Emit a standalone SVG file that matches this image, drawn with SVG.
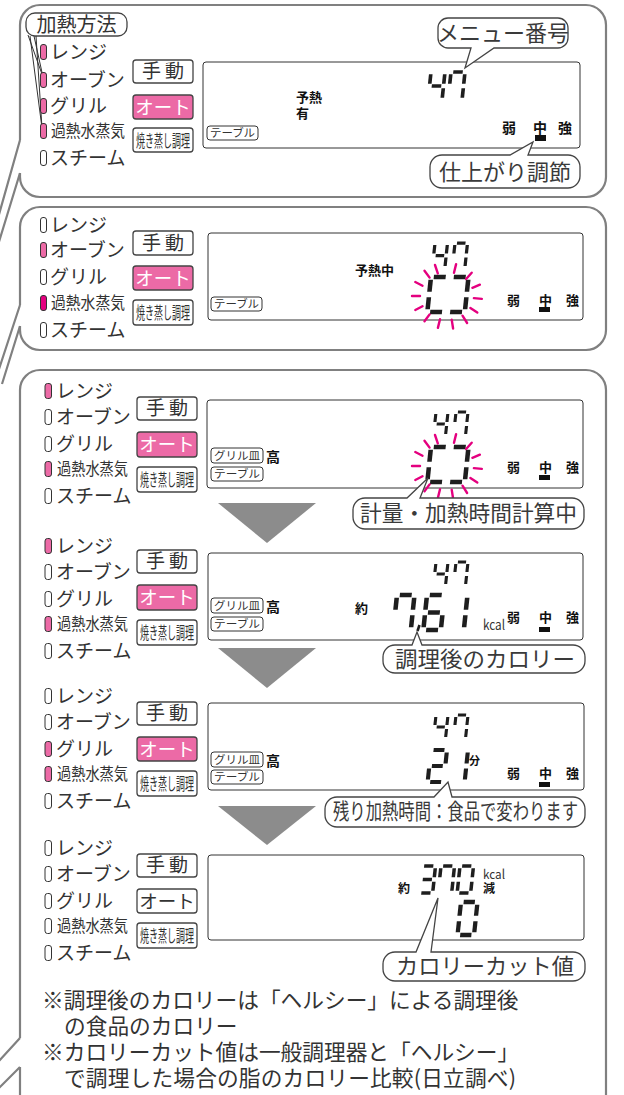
<svg xmlns="http://www.w3.org/2000/svg" width="624" height="1095" viewBox="0 0 624 1095">
<style>
text{font-family:"Noto Sans CJK JP","Noto Sans",sans-serif;fill:#333}
.tl{fill:none;stroke:#808080;stroke-width:2.2}
.lb{font-size:19px}
.lbs{font-size:17px}
.ind{fill:#fff;stroke:#333;stroke-width:1}
.on{fill:#EC6AA6}
.on2{fill:#E4007F}
.btn{fill:#fff;stroke:#444;stroke-width:1.3}
.auto{fill:#EC6AA6}
.bt{font-size:19px}
.bta{font-size:18.5px;text-anchor:middle}
.btw{fill:#fff}
.bts{font-size:16.5px}
.disp{fill:#fff;stroke:#333;stroke-width:1}
.tag{fill:#fff;stroke:#333;stroke-width:1}
.tt{font-size:11px}
.b{font-weight:bold;fill:#111}
.dg{fill:none;stroke:#1e1e1e;stroke-width:2.6}
.bl{fill:none;stroke:#E4007F;stroke-width:2.4;stroke-linecap:round}
.co{fill:#fff;stroke:#444;stroke-width:1.3}
.ct{font-size:22px;fill:#3a3a3a}
.tri{fill:#8c8c8c}
.note{font-size:21.7px;fill:#333}
.bar{fill:#111}
.ln{fill:none;stroke:#333;stroke-width:1}
</style>
<defs>
<path id="sa" d="M1.6 0H8.4"/>
<path id="sb" d="M10 1.6V8.4"/>
<path id="sc" d="M10 11.6V18.4"/>
<path id="sd" d="M1.6 20H8.4"/>
<path id="se" d="M0 11.6V18.4"/>
<path id="sf" d="M0 1.6V8.4"/>
<path id="sg" d="M1.6 10H8.4"/>
<g id="d4"><use href="#sf"/><use href="#sg"/><use href="#sb"/><use href="#sc"/></g>
<g id="d7"><use href="#sa"/><use href="#sf"/><use href="#sb"/><use href="#sc"/></g>
<g id="d0"><use href="#sa"/><use href="#sb"/><use href="#sc"/><use href="#sd"/><use href="#se"/><use href="#sf"/></g>
<g id="d1"><use href="#sb"/><use href="#sc"/></g>
<g id="d2"><use href="#sa"/><use href="#sb"/><use href="#sg"/><use href="#se"/><use href="#sd"/></g>
<g id="d3"><use href="#sa"/><use href="#sb"/><use href="#sg"/><use href="#sc"/><use href="#sd"/></g>
<g id="d6"><use href="#sa"/><use href="#sf"/><use href="#sg"/><use href="#se"/><use href="#sc"/><use href="#sd"/></g>
<g id="dL"><use href="#sa"/><use href="#sf"/><use href="#se"/><use href="#sd"/></g>
<g id="dR"><use href="#sa"/><use href="#sb"/><use href="#sc"/><use href="#sd"/></g>
<path id="blink" d="M-9.2-22.6L-12-31M7-23.2L9.1-31.9M19.1-17L24.7-23.3M25.4-8.2L32.9-11.3M26.9 2.1L34.9 2.9M23.4 12L30.3 16.5M15.5 19.7L20.1 27M4.7 23.6L6.1 32.5M-7 23.2L-9.1 31.9M-17.4 18.4L-22.5 25.3M-24.5 10.2L-31.7 14M-27 0L-35 0M-24.5-10.2L-31.7-14M-17.4-18.4L-22.5-25.3"/>
</defs>
<rect width="624" height="1095" fill="#fff"/>

<g id="connectors">
<path class="tl" d="M20 140L-2 218M20 173L-2 245"/>
<path class="tl" d="M20 305L-2 372M20 326L2 384"/>
<path class="tl" d="M20 1038L-2 1062M20 1067L-2 1089"/>
<path class="tri" d="M218 503H316L267 543Z"/>
<path class="tri" d="M218 648H316L267 688Z"/>
<path class="tri" d="M218 806H316L267 845Z"/>
</g>

<g id="panel1">
<path class="tl" d="M20 140V25A20 20 0 0 1 40 5H586A20 20 0 0 1 606 25V177A20 20 0 0 1 586 197H40A20 20 0 0 1 20 177V173"/>
<rect class="btn" x="26" y="13" width="101" height="23" rx="9"/>
<text x="76.5" y="32" font-size="20" text-anchor="middle">加熱方法</text>
<path class="ln" d="M28 35L43 77L34 36M30 36L42 128L36 36"/>
<rect class="ind on" x="40.5" y="44.5" width="6" height="15" rx="2.5"/>
<rect class="ind on" x="40.5" y="72.5" width="6" height="15" rx="2.5"/>
<rect class="ind on" x="40.5" y="98.5" width="6" height="15" rx="2.5"/>
<rect class="ind on" x="40.5" y="123.5" width="6" height="15" rx="2.5"/>
<rect class="ind" x="40.5" y="150.5" width="6" height="15" rx="2.5"/>
<text class="lb" x="50" y="59">レンジ</text>
<text class="lb" x="50" y="87">オーブン</text>
<text class="lb" x="50" y="113">グリル</text>
<text class="lbs" x="51" y="137" textLength="74" lengthAdjust="spacingAndGlyphs">過熱水蒸気</text>
<text class="lb" x="50" y="165">スチーム</text>
<rect class="btn" x="133" y="60" width="60" height="23" rx="3"/>
<text class="bt" x="142 165" y="78">手動</text>
<rect class="btn auto" x="133" y="95" width="60" height="24" rx="3"/>
<text class="bta btw" x="163" y="113.5">オート</text>
<rect class="btn" x="133" y="128" width="60" height="24" rx="3"/>
<text class="bts" x="136" y="146.5" textLength="54" lengthAdjust="spacingAndGlyphs">焼き蒸し調理</text>
<rect class="disp" x="203" y="62" width="377" height="86" rx="3"/>
<rect class="tag" x="207" y="126" width="51" height="14" rx="3"/>
<text class="tt" x="210" y="137" textLength="45" lengthAdjust="spacingAndGlyphs">テーブル</text>
<text class="b" x="296" y="102" font-size="13">予熱</text>
<text class="b" x="296" y="118" font-size="13">有</text>
<g class="dg"><use href="#d4" transform="translate(431 72) skewX(-6) scale(1.4)"/><use href="#d7" transform="translate(451 72) skewX(-6) scale(1.4)"/></g>
<text class="b" x="502" y="133" font-size="14">弱</text>
<text class="b" x="533" y="133" font-size="14">中</text>
<text class="b" x="558" y="133" font-size="14">強</text>
<rect class="bar" x="535" y="135" width="11" height="6"/>
<path class="co" d="M448 18H558A10 10 0 0 1 568 28V38A10 10 0 0 1 558 48H494L465 68L471 48H448A10 10 0 0 1 438 38V28A10 10 0 0 1 448 18Z"/>
<text class="ct" x="503" y="41" font-size="20" text-anchor="middle">メニュー番号</text>
<path class="co" d="M442 155H510L533 142L528 155H568A12 12 0 0 1 580 167V176A12 12 0 0 1 568 188H442A12 12 0 0 1 430 176V167A12 12 0 0 1 442 155Z"/>
<text class="ct" x="505" y="180" font-size="23" text-anchor="middle">仕上がり調節</text>
</g>

<g id="panel2">
<path class="tl" d="M20 305V227A20 20 0 0 1 40 207H586A20 20 0 0 1 606 227V330A20 20 0 0 1 586 350H40A20 20 0 0 1 20 330V326"/>
<rect class="ind" x="40.5" y="217.5" width="6" height="15" rx="2.5"/>
<rect class="ind on" x="40.5" y="242.5" width="6" height="15" rx="2.5"/>
<rect class="ind" x="40.5" y="269.5" width="6" height="15" rx="2.5"/>
<rect class="ind on2" x="40.5" y="295.5" width="6" height="15" rx="2.5"/>
<rect class="ind" x="40.5" y="322.5" width="6" height="15" rx="2.5"/>
<text class="lb" x="50" y="232">レンジ</text>
<text class="lb" x="50" y="257">オーブン</text>
<text class="lb" x="50" y="284">グリル</text>
<text class="lbs" x="51" y="309" textLength="74" lengthAdjust="spacingAndGlyphs">過熱水蒸気</text>
<text class="lb" x="50" y="337">スチーム</text>
<rect class="btn" x="133" y="231" width="60" height="24" rx="3"/>
<text class="bt" x="142 165" y="249.5">手動</text>
<rect class="btn auto" x="133" y="266" width="60" height="24" rx="3"/>
<text class="bta btw" x="163" y="284.5">オート</text>
<rect class="btn" x="133" y="300" width="60" height="25" rx="3"/>
<text class="bts" x="136" y="319" textLength="54" lengthAdjust="spacingAndGlyphs">焼き蒸し調理</text>
<rect class="disp" x="208" y="233" width="375" height="87" rx="3"/>
<rect class="tag" x="211" y="297" width="51" height="14" rx="3"/>
<text class="tt" x="214" y="308" textLength="45" lengthAdjust="spacingAndGlyphs">テーブル</text>
<text class="b" x="355" y="275" font-size="13">予熱中</text>
<g class="dg"><use href="#d4" transform="translate(435 243) skewX(-6) scale(1.25)"/><use href="#d7" transform="translate(455 243) skewX(-6) scale(1.25)"/>
<use href="#dL" transform="translate(431 277) skewX(-6) scale(1.75)"/><use href="#dR" transform="translate(451 277) skewX(-6) scale(1.75)"/></g>
<use class="bl" href="#blink" transform="translate(447 296)"/>
<text class="b" x="507" y="305" font-size="13">弱</text>
<text class="b" x="539" y="305" font-size="13">中</text>
<text class="b" x="566" y="305" font-size="13">強</text>
<rect class="bar" x="539" y="307" width="11" height="5"/>
</g>

<g id="panel3">
<path class="tl" d="M20 1038V390A20 20 0 0 1 40 370H586A20 20 0 0 1 606 390V1100M20 1067V1100"/>
</g>

<g id="stepA">
<rect class="ind on" x="45" y="383.5" width="6.5" height="15" rx="2.5"/>
<rect class="ind" x="45" y="409.5" width="6.5" height="15" rx="2.5"/>
<rect class="ind" x="45" y="436.5" width="6.5" height="15" rx="2.5"/>
<rect class="ind on" x="45" y="461.5" width="6.5" height="15" rx="2.5"/>
<rect class="ind" x="45" y="488.5" width="6.5" height="15" rx="2.5"/>
<text class="lb" x="56" y="398">レンジ</text>
<text class="lb" x="56" y="424">オーブン</text>
<text class="lb" x="56" y="451">グリル</text>
<text class="lbs" x="57" y="475" textLength="71" lengthAdjust="spacingAndGlyphs">過熱水蒸気</text>
<text class="lb" x="56" y="503">スチーム</text>
<rect class="btn" x="137" y="397" width="60" height="23" rx="3"/>
<text class="bt" x="146 169" y="415">手動</text>
<rect class="btn auto" x="137" y="432" width="60" height="25" rx="3"/>
<text class="bta btw" x="167" y="451">オート</text>
<rect class="btn" x="137" y="467" width="60" height="25" rx="3"/>
<text class="bts" x="140" y="486" textLength="54" lengthAdjust="spacingAndGlyphs">焼き蒸し調理</text>
<rect class="disp" x="207" y="400" width="376" height="88" rx="3"/>
<rect class="tag" x="211" y="448" width="52" height="15" rx="3"/>
<text class="tt" x="214" y="459.5" textLength="46" lengthAdjust="spacingAndGlyphs">グリル皿</text>
<text class="b" x="266" y="462" font-size="14">高</text>
<rect class="tag" x="211" y="467" width="52" height="14" rx="3"/>
<text class="tt" x="214" y="478" textLength="46" lengthAdjust="spacingAndGlyphs">テーブル</text>
<g class="dg"><use href="#d4" transform="translate(436 412) skewX(-6) scale(1.2)"/><use href="#d7" transform="translate(456 412) skewX(-6) scale(1.2)"/>
<use href="#dL" transform="translate(431 447) skewX(-6) scale(1.75)"/><use href="#dR" transform="translate(451 447) skewX(-6) scale(1.75)"/></g>
<use class="bl" href="#blink" transform="translate(447 466)"/>
<text class="b" x="507" y="472" font-size="13">弱</text>
<text class="b" x="539" y="472" font-size="13">中</text>
<text class="b" x="566" y="472" font-size="13">強</text>
<rect class="bar" x="539" y="475" width="11" height="5"/>
<path class="co" d="M365 498H407L428 478L420 498H572A12 12 0 0 1 584 510V517A12 12 0 0 1 572 529H365A12 12 0 0 1 353 517V510A12 12 0 0 1 365 498Z"/>
<text class="ct" x="360" y="521" textLength="217" lengthAdjust="spacingAndGlyphs">計量・加熱時間計算中</text>
</g>

<g id="stepB">
<rect class="ind on" x="45" y="538.5" width="6.5" height="15" rx="2.5"/>
<rect class="ind" x="45" y="564.5" width="6.5" height="15" rx="2.5"/>
<rect class="ind" x="45" y="591.5" width="6.5" height="15" rx="2.5"/>
<rect class="ind on" x="45" y="616.5" width="6.5" height="15" rx="2.5"/>
<rect class="ind" x="45" y="643.5" width="6.5" height="15" rx="2.5"/>
<text class="lb" x="56" y="553">レンジ</text>
<text class="lb" x="56" y="579">オーブン</text>
<text class="lb" x="56" y="606">グリル</text>
<text class="lbs" x="57" y="630" textLength="71" lengthAdjust="spacingAndGlyphs">過熱水蒸気</text>
<text class="lb" x="56" y="658">スチーム</text>
<rect class="btn" x="137" y="550" width="60" height="23" rx="3"/>
<text class="bt" x="146 169" y="568">手動</text>
<rect class="btn auto" x="137" y="585" width="60" height="25" rx="3"/>
<text class="bta btw" x="167" y="604">オート</text>
<rect class="btn" x="137" y="620" width="60" height="25" rx="3"/>
<text class="bts" x="140" y="639" textLength="54" lengthAdjust="spacingAndGlyphs">焼き蒸し調理</text>
<rect class="disp" x="208" y="553" width="375" height="87" rx="3"/>
<rect class="tag" x="211" y="598" width="52" height="15" rx="3"/>
<text class="tt" x="214" y="609.5" textLength="46" lengthAdjust="spacingAndGlyphs">グリル皿</text>
<text class="b" x="266" y="612" font-size="14">高</text>
<rect class="tag" x="211" y="617" width="52" height="14" rx="3"/>
<text class="tt" x="214" y="628" textLength="46" lengthAdjust="spacingAndGlyphs">テーブル</text>
<text class="b" x="355" y="613" font-size="13">約</text>
<g class="dg"><use href="#d4" transform="translate(436 562) skewX(-6) scale(1.2)"/><use href="#d7" transform="translate(456 562) skewX(-6) scale(1.2)"/>
<use href="#d7" transform="translate(397 595) skewX(-6) scale(1.75)"/><use href="#d6" transform="translate(427 595) skewX(-6) scale(1.75)"/><use href="#d1" transform="translate(450 595) skewX(-6) scale(1.75)"/>
<path d="M419.5 625L417.5 631"/></g>
<text x="483" y="630" font-size="14" textLength="22" lengthAdjust="spacingAndGlyphs" fill="#111">kcal</text>
<text class="b" x="507" y="622" font-size="13">弱</text>
<text class="b" x="539" y="622" font-size="13">中</text>
<text class="b" x="566" y="622" font-size="13">強</text>
<rect class="bar" x="539" y="627" width="11" height="5"/>
<path class="co" d="M395 645H412L417 632L422 645H573A12 12 0 0 1 585 657V661A12 12 0 0 1 573 673H395A12 12 0 0 1 383 661V657A12 12 0 0 1 395 645Z"/>
<text class="ct" x="395" y="667" textLength="180" lengthAdjust="spacingAndGlyphs">調理後のカロリー</text>
</g>

<g id="stepC">
<rect class="ind" x="45" y="688.5" width="6.5" height="15" rx="2.5"/>
<rect class="ind" x="45" y="714.5" width="6.5" height="15" rx="2.5"/>
<rect class="ind on" x="45" y="741.5" width="6.5" height="15" rx="2.5"/>
<rect class="ind on" x="45" y="766.5" width="6.5" height="15" rx="2.5"/>
<rect class="ind" x="45" y="793.5" width="6.5" height="15" rx="2.5"/>
<text class="lb" x="56" y="703">レンジ</text>
<text class="lb" x="56" y="729">オーブン</text>
<text class="lb" x="56" y="756">グリル</text>
<text class="lbs" x="57" y="780" textLength="71" lengthAdjust="spacingAndGlyphs">過熱水蒸気</text>
<text class="lb" x="56" y="808">スチーム</text>
<rect class="btn" x="137" y="702" width="60" height="23" rx="3"/>
<text class="bt" x="146 169" y="720">手動</text>
<rect class="btn auto" x="137" y="737" width="60" height="24" rx="3"/>
<text class="bta btw" x="167" y="755.5">オート</text>
<rect class="btn" x="137" y="771" width="60" height="25" rx="3"/>
<text class="bts" x="140" y="790" textLength="54" lengthAdjust="spacingAndGlyphs">焼き蒸し調理</text>
<rect class="disp" x="208" y="703" width="376" height="87" rx="3"/>
<rect class="tag" x="211" y="752" width="52" height="15" rx="3"/>
<text class="tt" x="214" y="763.5" textLength="46" lengthAdjust="spacingAndGlyphs">グリル皿</text>
<text class="b" x="266" y="766" font-size="14">高</text>
<rect class="tag" x="211" y="770" width="52" height="14" rx="3"/>
<text class="tt" x="214" y="781" textLength="46" lengthAdjust="spacingAndGlyphs">テーブル</text>
<g class="dg"><use href="#d4" transform="translate(436 715) skewX(-6) scale(1.2)"/><use href="#d7" transform="translate(456 715) skewX(-6) scale(1.2)"/>
<use href="#d2" transform="translate(431 750) skewX(-6) scale(1.6)"/><use href="#d1" transform="translate(452 750) skewX(-6) scale(1.6)"/></g>
<text class="b" x="469" y="765" font-size="11">分</text>
<text class="b" x="507" y="778" font-size="13">弱</text>
<text class="b" x="539" y="778" font-size="13">中</text>
<text class="b" x="566" y="778" font-size="13">強</text>
<rect class="bar" x="539" y="782" width="11" height="5"/>
<path class="co" d="M337 797H434L448 782L452 797H573A12 12 0 0 1 585 809V815A12 12 0 0 1 573 827H337A12 12 0 0 1 325 815V809A12 12 0 0 1 337 797Z"/>
<text class="ct" x="333" y="819" font-size="19" textLength="245" lengthAdjust="spacingAndGlyphs">残り加熱時間：食品で変わります</text>
</g>

<g id="stepD">
<rect class="ind" x="45" y="840.5" width="6.5" height="15" rx="2.5"/>
<rect class="ind" x="45" y="866.5" width="6.5" height="15" rx="2.5"/>
<rect class="ind" x="45" y="893.5" width="6.5" height="15" rx="2.5"/>
<rect class="ind" x="45" y="918.5" width="6.5" height="15" rx="2.5"/>
<rect class="ind" x="45" y="945.5" width="6.5" height="15" rx="2.5"/>
<text class="lb" x="56" y="855">レンジ</text>
<text class="lb" x="56" y="881">オーブン</text>
<text class="lb" x="56" y="908">グリル</text>
<text class="lbs" x="57" y="932" textLength="71" lengthAdjust="spacingAndGlyphs">過熱水蒸気</text>
<text class="lb" x="56" y="960">スチーム</text>
<rect class="btn" x="137" y="854" width="60" height="23" rx="3"/>
<text class="bt" x="146 169" y="872">手動</text>
<rect class="btn" x="137" y="889" width="60" height="24" rx="3"/>
<text class="bta" x="167" y="907.5">オート</text>
<rect class="btn" x="137" y="923" width="60" height="25" rx="3"/>
<text class="bts" x="140" y="942" textLength="54" lengthAdjust="spacingAndGlyphs">焼き蒸し調理</text>
<rect class="disp" x="208" y="855" width="376" height="85" rx="3"/>
<text class="b" x="398" y="893" font-size="12">約</text>
<g class="dg"><use href="#d3" transform="translate(422 866) skewX(-6) scale(1.35)"/><use href="#d7" transform="translate(441 866) skewX(-6) scale(1.35)"/><use href="#d0" transform="translate(460 866) skewX(-6) scale(1.35)"/>
<use href="#d0" transform="translate(461 902) skewX(-6) scale(1.65)"/></g>
<text x="483" y="879" font-size="13" textLength="22" lengthAdjust="spacingAndGlyphs" fill="#111">kcal</text>
<text class="b" x="483" y="893" font-size="12">減</text>
<path class="co" d="M395 952H416L438 898L431 952H573A12 12 0 0 1 585 964V969A12 12 0 0 1 573 981H395A12 12 0 0 1 383 969V964A12 12 0 0 1 395 952Z"/>
<text class="ct" x="396" y="974" textLength="178" lengthAdjust="spacingAndGlyphs">カロリーカット値</text>
</g>

<g id="notes">
<text class="note" x="42" y="1008">※調理後のカロリーは「ヘルシー」による調理後</text>
<text class="note" x="64" y="1034">の食品のカロリー</text>
<text class="note" x="42" y="1060">※カロリーカット値は一般調理器と「ヘルシー」</text>
<text class="note" x="64" y="1086" textLength="452" lengthAdjust="spacing">で調理した場合の脂のカロリー比較(日立調べ)</text>
</g>
</svg>
